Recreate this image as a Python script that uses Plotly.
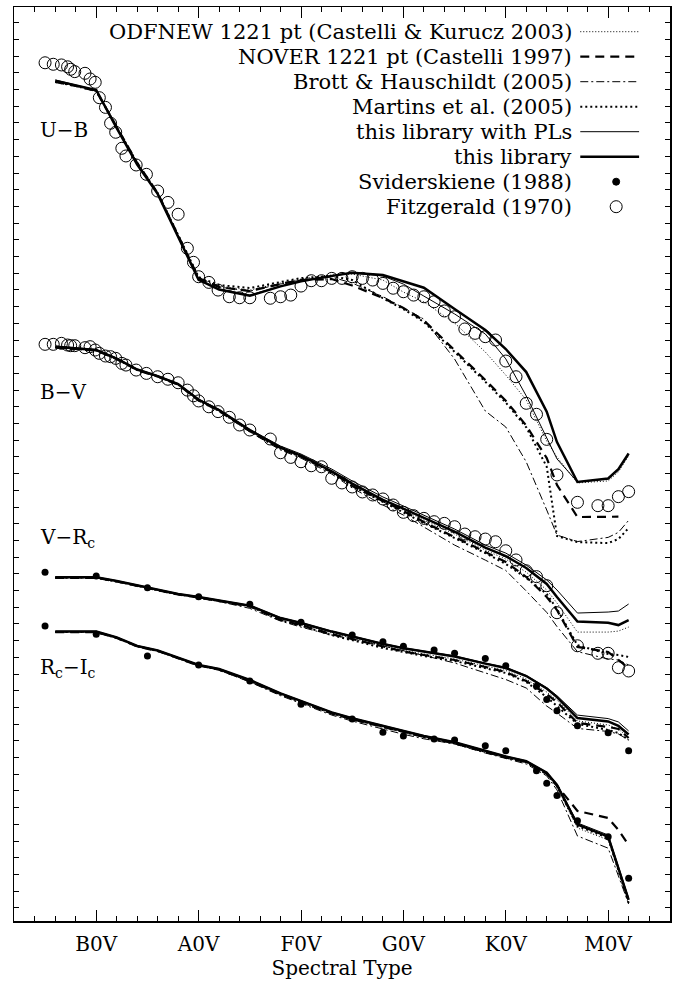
import plotly.graph_objects as go

# ---------------- data ----------------
# spectral subtype number: B0=10, A0=20, F0=30, G0=40, K0=50, M0=60
TICK_VALS = [10, 20, 30, 40, 50, 60]
TICK_TEXT = ["B0V", "A0V", "F0V", "G0V", "K0V", "M0V"]

X_GRID = [6, 8, 10, 12, 14, 16, 18, 20, 22, 25, 28, 30, 33, 35, 38, 40, 42, 45, 48, 50, 52, 54, 55, 57, 60, 61, 62]

# U-B
UB_LIB = [-1.183, -1.154, -1.127, -0.899, -0.681, -0.505, -0.253, 0.009, 0.068, 0.105, 0.049, 0.018, -0.014, -0.033, -0.019, 0.020, 0.057, 0.184, 0.310, 0.424, 0.562, 0.799, 0.981, 1.220, 1.199, 1.143, 1.050]
UB_PL = [-1.187, -1.157, -1.127, -0.899, -0.681, -0.504, -0.253, 0.011, 0.065, 0.101, 0.047, 0.017, -0.013, -0.031, -0.013, 0.035, 0.107, 0.214, 0.334, 0.483, 0.705, 0.957, 1.082, 1.220, 1.202, 1.148, 1.052]
UB_ODF = [-1.175, -1.151, -1.121, -0.905, -0.690, -0.510, -0.259, -0.001, 0.047, 0.071, 0.029, 0.005, -0.019, -0.025, 0.011, 0.083, 0.142, 0.268, 0.442, 0.580, 0.729, 0.975, 1.071, 1.226, 1.214, 1.160, 1.064]
UB_NOVER = [-1.175, -1.151, -1.121, -0.905, -0.690, -0.510, -0.259, -0.001, 0.053, 0.077, 0.035, 0.011, 0.005, 0.044, 0.118, 0.178, 0.253, 0.430, 0.609, 0.734, 0.882, 1.077, 1.238, 1.430, 1.430, 1.428, None]
UB_MARTINS = [-1.175, -1.151, -1.121, -0.905, -0.690, -0.510, -0.259, -0.007, 0.041, 0.059, 0.023, -0.001, -0.013, 0.011, 0.120, 0.185, 0.262, 0.440, 0.620, 0.745, 0.893, 1.129, 1.544, 1.580, 1.586, 1.562, 1.496]
UB_BROTT = [-1.175, -1.151, -1.121, -0.905, -0.690, -0.510, -0.259, -0.001, 0.053, 0.077, 0.035, 0.011, -0.007, 0.029, 0.110, 0.175, 0.245, 0.484, 0.795, 0.891, 1.100, 1.388, 1.538, 1.577, 1.552, 1.522, 1.450]

# B-V
BV_LIB = [-0.320, -0.309, -0.300, -0.249, -0.183, -0.144, -0.096, -0.002, 0.059, 0.179, 0.284, 0.332, 0.426, 0.500, 0.597, 0.650, 0.706, 0.787, 0.883, 0.934, 1.005, 1.101, 1.179, 1.326, 1.333, 1.347, 1.317]
BV_PL = [-0.324, -0.312, -0.303, -0.252, -0.186, -0.147, -0.099, -0.007, 0.056, 0.176, 0.275, 0.323, 0.413, 0.484, 0.580, 0.634, 0.688, 0.772, 0.868, 0.916, 0.988, 1.077, 1.137, 1.275, 1.269, 1.263, 1.221]
BV_ODF = [-0.315, -0.306, -0.297, -0.246, -0.180, -0.141, -0.093, 0.002, 0.065, 0.185, 0.290, 0.338, 0.431, 0.508, 0.610, 0.658, 0.718, 0.802, 0.898, 0.952, 1.030, 1.137, 1.215, 1.389, 1.389, 1.383, 1.359]
BV_NOVER = [-0.315, -0.306, -0.297, -0.246, -0.180, -0.141, -0.093, 0.002, 0.065, 0.185, 0.290, 0.338, 0.431, 0.514, 0.604, 0.664, 0.730, 0.820, 0.910, 0.969, 1.059, 1.179, 1.257, 1.478, 1.508, 1.556, 1.604]
BV_MARTINS = [-0.315, -0.306, -0.297, -0.246, -0.180, -0.141, -0.093, 0.002, 0.065, 0.185, 0.290, 0.338, 0.431, 0.514, 0.610, 0.670, 0.736, 0.826, 0.916, 0.981, 1.065, 1.161, 1.251, 1.467, 1.520, 1.526, 1.538]
BV_BROTT = [-0.315, -0.306, -0.297, -0.246, -0.180, -0.141, -0.093, 0.002, 0.065, 0.191, 0.299, 0.347, 0.443, 0.526, 0.628, 0.688, 0.760, 0.868, 0.958, 1.020, 1.143, 1.271, 1.356, 1.506, 1.550, 1.556, 1.586]

# V-Rc
VR_LIB = [-0.109, -0.109, -0.109, -0.087, -0.060, -0.033, -0.009, 0.009, 0.030, 0.061, 0.135, 0.165, 0.216, 0.246, 0.290, 0.316, 0.335, 0.365, 0.408, 0.434, 0.482, 0.557, 0.608, 0.734, 0.754, 0.781, 0.832]
VR_PL = [-0.111, -0.111, -0.111, -0.089, -0.062, -0.035, -0.011, 0.007, 0.028, 0.059, 0.132, 0.162, 0.213, 0.243, 0.287, 0.313, 0.332, 0.362, 0.405, 0.431, 0.479, 0.552, 0.600, 0.716, 0.737, 0.757, 0.811]
VR_ODF = [-0.106, -0.106, -0.106, -0.084, -0.057, -0.030, -0.006, 0.012, 0.033, 0.064, 0.140, 0.171, 0.225, 0.254, 0.302, 0.329, 0.350, 0.380, 0.422, 0.449, 0.500, 0.578, 0.626, 0.751, 0.775, 0.799, 0.853]
VR_NOVER = [-0.106, -0.106, -0.106, -0.084, -0.057, -0.030, -0.006, 0.012, 0.033, 0.064, 0.147, 0.177, 0.231, 0.260, 0.308, 0.335, 0.356, 0.386, 0.428, 0.458, 0.512, 0.590, 0.638, 0.763, 0.787, 0.799, 0.853]
VR_MARTINS = [-0.106, -0.106, -0.106, -0.084, -0.057, -0.030, -0.006, 0.012, 0.033, 0.064, 0.147, 0.180, 0.237, 0.266, 0.314, 0.338, 0.362, 0.392, 0.434, 0.464, 0.518, 0.608, 0.662, 0.769, 0.805, 0.823, 0.865]
VR_BROTT = [-0.106, -0.106, -0.106, -0.084, -0.057, -0.030, -0.006, 0.012, 0.036, 0.077, 0.153, 0.189, 0.237, 0.260, 0.302, 0.329, 0.359, 0.404, 0.464, 0.503, 0.554, 0.662, 0.704, 0.796, 0.814, 0.829, 0.865]

# Rc-Ic
RI_LIB = [-0.204, -0.204, -0.204, -0.169, -0.118, -0.091, -0.049, -0.004, 0.020, 0.086, 0.166, 0.211, 0.280, 0.315, 0.361, 0.392, 0.421, 0.459, 0.510, 0.544, 0.572, 0.641, 0.714, 0.951, 1.024, 1.211, 1.403]
RI_PL = [-0.206, -0.206, -0.206, -0.171, -0.120, -0.093, -0.051, -0.006, 0.018, 0.084, 0.164, 0.209, 0.278, 0.313, 0.359, 0.390, 0.419, 0.457, 0.508, 0.542, 0.570, 0.638, 0.708, 0.942, 1.014, 1.200, 1.392]
RI_ODF = [-0.201, -0.201, -0.201, -0.166, -0.115, -0.088, -0.046, -0.001, 0.024, 0.095, 0.175, 0.220, 0.289, 0.324, 0.370, 0.401, 0.430, 0.468, 0.519, 0.553, 0.581, 0.650, 0.725, 0.972, 1.044, 1.223, 1.421]
RI_NOVER = [-0.201, -0.201, -0.201, -0.166, -0.115, -0.088, -0.046, -0.001, 0.024, 0.092, 0.172, 0.217, 0.286, 0.321, 0.367, 0.398, 0.427, 0.465, 0.516, 0.550, 0.578, 0.648, 0.719, 0.870, 0.912, 0.984, 1.074]
RI_MARTINS = [-0.201, -0.201, -0.201, -0.166, -0.115, -0.088, -0.046, -0.001, 0.024, 0.092, 0.172, 0.217, 0.286, 0.321, 0.367, 0.398, 0.427, 0.465, 0.516, 0.550, 0.578, 0.646, 0.722, 0.960, 1.032, 1.223, 1.421]
RI_BROTT = [-0.201, -0.201, -0.201, -0.166, -0.115, -0.088, -0.046, -0.001, 0.027, 0.098, 0.180, 0.226, 0.296, 0.332, 0.380, 0.411, 0.438, 0.469, 0.523, 0.556, 0.589, 0.660, 0.744, 1.020, 1.093, 1.259, 1.427]

# Fitzgerald (1970)
FITZ_X = [5, 5.8, 6.6, 7.2, 7.5, 7.9, 8.9, 9.4, 9.9, 10.3, 10.9, 11.4, 11.9, 12.5, 12.9, 13.9, 14.9, 16, 17, 18,
          18.9, 19.5, 20, 21, 21.9, 23, 24, 25, 27, 28, 29, 30, 31, 32, 33, 34, 35, 36, 37, 38,
          39, 40, 41, 42, 43, 44, 45, 46, 47, 48, 49, 50, 51, 52, 53, 54, 55, 57, 59, 60, 61, 62]
FITZ_UB = [-1.290, -1.281, -1.277, -1.266, -1.251, -1.237, -1.227, -1.193, -1.173, -1.081,
           -1.023, -0.928, -0.874, -0.778, -0.732, -0.678, -0.622, -0.522, -0.454, -0.383,
           -0.179, -0.095, -0.009, 0.025, 0.071, 0.111, 0.117, 0.117, 0.120, 0.111,
           0.101, 0.047, 0.015, 0.015, 0.001, 0.001, -0.009, 0.001, 0.011, 0.031,
           0.060, 0.081, 0.101, 0.111, 0.141, 0.196, 0.231, 0.304, 0.330, 0.350,
           0.370, 0.496, 0.590, 0.749, 0.815, 0.965, 1.178, 1.342, 1.362, 1.362, 1.308, 1.278]
FITZ_BV = [-0.334, -0.334, -0.340, -0.330, -0.326, -0.326, -0.314, -0.320, -0.300, -0.280,
           -0.264, -0.260, -0.250, -0.220, -0.210, -0.180, -0.160, -0.140, -0.125, -0.104,
           -0.060, -0.026, 0.005, 0.040, 0.069, 0.103, 0.149, 0.179, 0.233, 0.315,
           0.343, 0.369, 0.393, 0.399, 0.468, 0.496, 0.520, 0.550, 0.568, 0.592,
           0.628, 0.672, 0.692, 0.708, 0.728, 0.738, 0.758, 0.802, 0.818, 0.832,
           0.848, 0.902, 0.957, 1.022, 1.057, 1.111, 1.273, 1.471, 1.516, 1.516, 1.602, 1.622]

# Sviderskiene (1988)
SV_X = [5, 10, 15, 20, 25, 30, 35, 38, 40, 43, 45, 48, 50, 53, 54, 55, 57, 60, 62]
SV_VR = [-0.139, -0.117, -0.047, 0.007, 0.053, 0.160, 0.237, 0.277, 0.304, 0.326, 0.346, 0.377, 0.421, 0.544, 0.622, 0.690, 0.780, 0.822, 0.929]
SV_RI = [-0.238, -0.188, -0.058, -0.004, 0.092, 0.231, 0.319, 0.399, 0.421, 0.439, 0.445, 0.479, 0.509, 0.629, 0.704, 0.778, 0.929, 1.024, 1.273]

# vertical offsets of the four colour sequences
BANDS = ["U-B", "B-V", "V-Rc", "Rc-Ic"]
OFFSETS = {"U-B": 1.63, "B-V": 2.36, "V-Rc": 3.53, "Rc-Ic": 3.95}
BAND_LABELS = {"U-B": "U\u2212B", "B-V": "B\u2212V", "V-Rc": "V\u2212R<sub>c</sub>", "Rc-Ic": "R<sub>c</sub>\u2212I<sub>c</sub>"}

MODELS = {
    "ODFNEW": {"U-B": UB_ODF, "B-V": BV_ODF, "V-Rc": VR_ODF, "Rc-Ic": RI_ODF},
    "NOVER": {"U-B": UB_NOVER, "B-V": BV_NOVER, "V-Rc": VR_NOVER, "Rc-Ic": RI_NOVER},
    "BROTT": {"U-B": UB_BROTT, "B-V": BV_BROTT, "V-Rc": VR_BROTT, "Rc-Ic": RI_BROTT},
    "MARTINS": {"U-B": UB_MARTINS, "B-V": BV_MARTINS, "V-Rc": VR_MARTINS, "Rc-Ic": RI_MARTINS},
    "PL": {"U-B": UB_PL, "B-V": BV_PL, "V-Rc": VR_PL, "Rc-Ic": RI_PL},
    "LIB": {"U-B": UB_LIB, "B-V": BV_LIB, "V-Rc": VR_LIB, "Rc-Ic": RI_LIB},
}
LEGEND_TEXT = {
    "ODFNEW": "ODFNEW 1221 pt (Castelli & Kurucz 2003)",
    "NOVER": "NOVER 1221 pt (Castelli 1997)",
    "BROTT": "Brott & Hauschildt (2005)",
    "MARTINS": "Martins et al. (2005)",
    "PL": "this library with PLs",
    "LIB": "this library",
    "SV": "Sviderskiene (1988)",
    "FITZ": "Fitzgerald (1970)",
}

# ---------------- styles ----------------
STYLE = {
    "ODFNEW": dict(width=1.0, dash="1px,2px"),
    "NOVER": dict(width=2.2, dash="9px,6px"),
    "BROTT": dict(width=1.0, dash="8px,3px,2px,3px"),
    "MARTINS": dict(width=2.0, dash="2px,3px"),
    "PL": dict(width=1.0, dash="solid"),
    "LIB": dict(width=2.5, dash="solid"),
}
FONT = "DejaVu Serif"

W, H = 677, 992
ML, MR, MT, MB = 14, 5, 7, 71
PX_PER_MAG = 167.0
X_RANGE = [1.967, 66.04]
Y_RANGE = [(H - MB - 6) / PX_PER_MAG, (MT - 6) / PX_PER_MAG]

fig = go.Figure()

def shifted(vals, band):
    return [None if v is None else v + OFFSETS[band] for v in vals]

for band in BANDS:
    for key in ["ODFNEW", "NOVER", "BROTT", "MARTINS", "PL", "LIB"]:
        st = STYLE[key]
        fig.add_trace(go.Scatter(
            x=X_GRID, y=shifted(MODELS[key][band], band), mode="lines",
            line=dict(color="black", width=st["width"], dash=st["dash"]),
            showlegend=False, hoverinfo="skip"))

for band, vals in [("U-B", FITZ_UB), ("B-V", FITZ_BV)]:
    fig.add_trace(go.Scatter(
        x=FITZ_X, y=shifted(vals, band), mode="markers",
        marker=dict(symbol="circle-open", size=12, color="black", line=dict(width=1)),
        showlegend=False, hoverinfo="skip"))

for band, vals in [("V-Rc", SV_VR), ("Rc-Ic", SV_RI)]:
    fig.add_trace(go.Scatter(
        x=SV_X, y=shifted(vals, band), mode="markers",
        marker=dict(symbol="circle", size=7, color="black"),
        showlegend=False, hoverinfo="skip"))

# ---------------- layout helpers ----------------
PW = W - ML - MR
PH = H - MT - MB

def px_x(p):
    return (p - ML) / PW

def px_y(p):
    return 1 - (p - MT) / PH

annotations = []
shapes = []

# band labels
LABEL_POS = {"U-B": 130, "B-V": 392, "V-Rc": 538, "Rc-Ic": 668}
for band in BANDS:
    annotations.append(dict(
        x=px_x(38), y=px_y(LABEL_POS[band]), xref="paper", yref="paper",
        text=BAND_LABELS[band], showarrow=False, xanchor="left", yanchor="middle",
        font=dict(family=FONT, size=20, color="black")))

# custom legend (text right-aligned, sample to the right)
ROW0, ROWSTEP = 31.7, 25.0
TEXT_RIGHT = 576
SAMPLE_L, SAMPLE_R, MARK_X = 582, 641, 618
order = ["ODFNEW", "NOVER", "BROTT", "MARTINS", "PL", "LIB", "SV", "FITZ"]
for i, key in enumerate(order):
    yy = ROW0 + ROWSTEP * i
    annotations.append(dict(
        x=px_x(TEXT_RIGHT), y=px_y(yy), xref="paper", yref="paper",
        text=LEGEND_TEXT[key].replace("&", "&amp;"), showarrow=False,
        xanchor="right", yanchor="middle",
        font=dict(family=FONT, size=21, color="black")))
    if key in STYLE:
        st = STYLE[key]
        shapes.append(dict(
            type="line", xref="paper", yref="paper",
            x0=px_x(SAMPLE_L), x1=px_x(SAMPLE_R), y0=px_y(yy), y1=px_y(yy),
            line=dict(color="black", width=st["width"], dash=st["dash"])))
    else:
        r = 3.5 if key == "SV" else 6
        shapes.append(dict(
            type="circle", xref="paper", yref="paper",
            xsizemode="pixel", ysizemode="pixel",
            xanchor=px_x(MARK_X), yanchor=px_y(yy),
            x0=-r, x1=r, y0=-r, y1=r,
            line=dict(color="black", width=1),
            fillcolor="black" if key == "SV" else "rgba(0,0,0,0)"))

fig.update_layout(
    width=W, height=H,
    margin=dict(l=ML, r=MR, t=MT, b=MB, pad=0),
    paper_bgcolor="white", plot_bgcolor="white",
    showlegend=False,
    font=dict(family=FONT, size=20, color="black"),
    annotations=annotations, shapes=shapes,
    xaxis=dict(
        range=X_RANGE, showgrid=False, zeroline=False,
        showline=True, linecolor="black", linewidth=1.5, mirror="ticks",
        ticks="inside", ticklen=11, tickwidth=1, tickcolor="black",
        tickvals=TICK_VALS, ticktext=TICK_TEXT,
        tickfont=dict(family=FONT, size=20, color="black"),
        ticklabelstandoff=4,
        minor=dict(ticks="inside", ticklen=5, tickwidth=1, tickcolor="black", dtick=2, tick0=0, showgrid=False),
        title=dict(text="Spectral Type", font=dict(family=FONT, size=20, color="black"), standoff=4),
    ),
    yaxis=dict(
        range=Y_RANGE, showgrid=False, zeroline=False,
        showline=True, linecolor="black", linewidth=1.5, mirror="ticks",
        ticks="inside", ticklen=5, tickwidth=1, tickcolor="black",
        tick0=0, dtick=0.1, showticklabels=False,
    ),
)

fig.write_html(
    "out.html",
    config={"displayModeBar": False, "staticPlot": True},
    post_script="document.body.style.margin='0px';document.body.style.overflow='hidden';",
)
